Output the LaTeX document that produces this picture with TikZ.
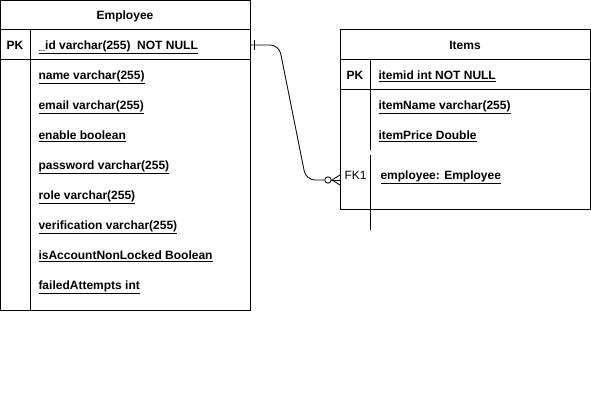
\documentclass[tikz,border=0pt]{standalone}
\usepackage{fontspec}
\setmainfont{Liberation Sans}
\usetikzlibrary{arrows.meta}
\begin{document}
\begin{tikzpicture}[x=1pt,y=-1pt,line width=1pt,
  fld/.style={anchor=base west,inner sep=0pt,yshift=-4.4pt,font=\fontsize{12}{14}\selectfont\bfseries},
  key/.style={anchor=base,inner sep=0pt,yshift=-4.4pt,font=\fontsize{12}{14}\selectfont\bfseries},
  ttl/.style={anchor=base,inner sep=0pt,yshift=-4.4pt,font=\fontsize{12}{14}\selectfont\bfseries},
  tbl/.style={draw=black,line width=1pt}]
\useasboundingbox[fill=white] (0,0) rectangle (591,411);
% Employee table
\draw[tbl] (0.5,0.5) rectangle (250,310);
\draw[tbl] (0.5,30) -- (250,30);
\draw[tbl] (0.5,60) -- (250,60);
\draw[tbl] (30,30) -- (30,310);
\node[ttl] (emptitle) at (125,15) {Employee};
\node[key] (emppk) at (15,45) {PK};
\node[fld] (empid) at (38,45) {\underline{\_id varchar(255)\ \ NOT NULL}};
\node[fld] (f1) at (38,75) {\underline{name varchar(255)}};
\node[fld] (f2) at (38,105) {\underline{email varchar(255)}};
\node[fld] (f3) at (38,135) {\underline{enable boolean}};
\node[fld] (f4) at (38,165) {\underline{password varchar(255)}};
\node[fld] (f5) at (38,195) {\underline{role varchar(255)}};
\node[fld] (f6) at (38,225) {\underline{verification varchar(255)}};
\node[fld] (f7) at (38,255) {\underline{isAccountNonLocked Boolean}};
\node[fld] (f8) at (38,285) {\underline{failedAttempts int}};
% Items table
\draw[tbl] (340,30) rectangle (590,210);
\draw[tbl] (340,60) -- (590,60);
\draw[tbl] (340,90) -- (590,90);
\draw[tbl] (370,60) -- (370,150);
\draw[tbl] (370,155) -- (370,230);
\node[ttl] (itemtitle) at (465,45) {Items};
\node[key] (itempk) at (355,75) {PK};
\node[fld] (itemid) at (378,75) {\underline{itemid int NOT NULL}};
\node[fld] (g1) at (378,105) {\underline{itemName varchar(255)}};
\node[fld] (g2) at (378,135) {\underline{itemPrice Double}};
\node[anchor=base west,inner sep=0pt,yshift=-4.4pt,font=\fontsize{12}{14}\selectfont] (fk) at (344,175) {FK1};
\node[fld] (g3) at (380,175) {\underline{employee: Employee}};
% connector
\coordinate (a) at (250,45);
\coordinate (b) at (340,180);
\draw[line width=0.8pt,rounded corners=9pt] (a) -- (279,45) -- (306,180) -- (324,180);
\draw[line width=0.8pt] (254,40) -- (254,50);
\draw[line width=0.8pt] (328,180) circle (3.2);
\draw[line width=0.8pt] (331.2,180) -- (b);
\draw[line width=0.8pt] (332,180) -- (340,175);
\draw[line width=0.8pt] (332,180) -- (340,185);
\end{tikzpicture}
\end{document}
